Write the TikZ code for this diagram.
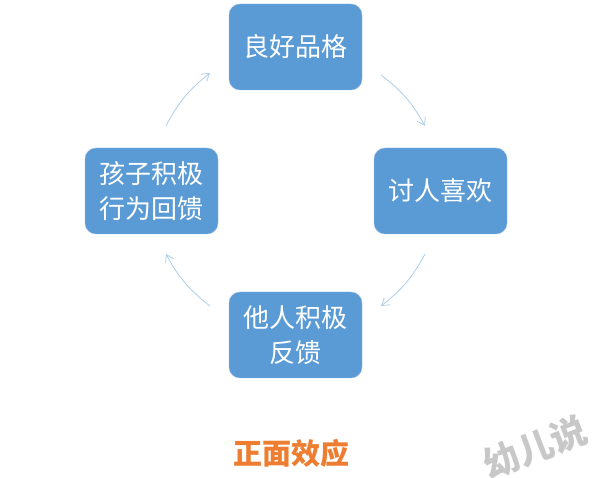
\documentclass[tikz,border=0pt]{standalone}
\usepackage{fontspec}
\setmainfont{Noto Sans CJK SC}
\usetikzlibrary{arrows.meta}
\definecolor{boxblue}{RGB}{91,155,213}
\definecolor{arcblue}{RGB}{172,205,234}
\definecolor{titleorange}{RGB}{237,125,49}
\definecolor{markgray}{RGB}{200,200,200}
\begin{document}
\begin{tikzpicture}[x=1pt,y=-1pt,
  card/.style={draw=boxblue!70,fill=boxblue,rounded corners=11pt,minimum width=133pt,minimum height=86pt,inner sep=0pt,
    text=white,align=center,font=\fontsize{26}{35}\selectfont},
  cycle/.style={draw=arcblue,line width=0.8pt,-{Straight Barb[length=7pt,width=9pt]}}]
\useasboundingbox (0,0) rectangle (600,478);
\node[card] (good) at (295.5,47) {良好品格};
\node[card] (liked) at (440.5,191) {讨人喜欢};
\node[card] (praise) at (295.5,335) {他人积极\\反馈};
\node[card] (child) at (151.5,191) {孩子积极\\行为回馈};
\coordinate (a1) at (381,75);
\coordinate (a2) at (425,126);
\coordinate (b1) at (425,254);
\coordinate (b2) at (381,306);
\coordinate (c1) at (210,306);
\coordinate (c2) at (166,254);
\coordinate (d1) at (166,126);
\coordinate (d2) at (210,73);
\draw[cycle] (a1) to[bend left=12] (a2);
\draw[cycle] (b1) to[bend left=12] (b2);
\draw[cycle] (c1) to[bend left=12] (c2);
\draw[cycle] (d1) to[bend left=12] (d2);
\node[text=titleorange,font=\fontsize{29}{29}\selectfont\bfseries] (title) at (291,453) {正面效应};
\node[text=markgray,rotate=21,font=\fontsize{36}{36}\selectfont\bfseries] (mark) at (535,447) {幼儿说};
\end{tikzpicture}
\end{document}
